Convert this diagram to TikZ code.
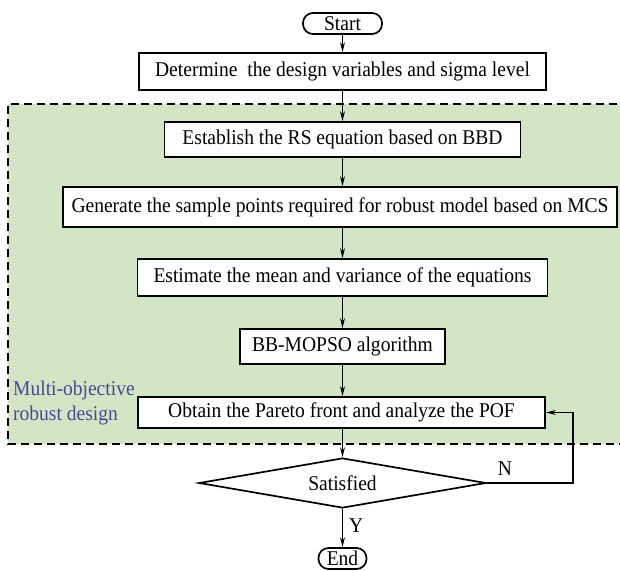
\documentclass[tikz,border=0pt]{standalone}
\usepackage{fontspec}
\setmainfont[FakeStretch=0.93]{Liberation Serif}
\usetikzlibrary{shapes.geometric,arrows.meta}
\definecolor{regionfill}{RGB}{210,230,198}
\definecolor{labelblue}{RGB}{72,72,150}
\tikzset{
  procbox/.style={draw, line width=1.7pt, fill=white, rectangle, inner sep=0pt, font=\fontsize{21}{24}\selectfont},
  termbox/.style={draw, line width=1.7pt, fill=white, rectangle, rounded corners=10pt, inner sep=0pt, font=\fontsize{21}{24}\selectfont},
  decbox/.style={draw, line width=1.7pt, fill=white, diamond, aspect=5.74, inner sep=0pt, font=\fontsize{21}{24}\selectfont},
  flow/.style={line width=1.1pt, -{Stealth[length=10pt,width=5pt]}},
  lbl/.style={inner sep=0pt, font=\fontsize{21}{24}\selectfont}
}
\begin{document}
\begin{tikzpicture}[x=1pt,y=-1pt]
\useasboundingbox (0,0) rectangle (620,570);
\fill[white] (0,0) rectangle (620,570);
% region
\fill[regionfill] (8,104) rectangle (630,444);
\draw[line width=1.2pt, dash pattern=on 8pt off 5pt] (630,104) -- (8,104) -- (8,444) -- (630,444);
\node[lbl, anchor=north west, align=left, text=labelblue, font=\fontsize{21}{25}\selectfont] (region) at (13,381) {Multi-objective\\robust design};
% nodes
\node[termbox, minimum width=79pt, minimum height=21pt] (start) at (342.5,23.5) {Start};
\node[procbox, minimum width=407pt, minimum height=37pt] (det) at (342.5,71.5) {Determine\ \ the design variables and sigma level};
\node[procbox, minimum width=356pt, minimum height=35pt] (rs) at (342.5,139.5) {Establish the RS equation based on BBD};
\node[procbox, minimum width=554pt, minimum height=40pt] (gen) at (340,207) {Generate the sample points required for robust model based on MCS};
\node[procbox, minimum width=410pt, minimum height=37pt] (est) at (342.5,277.5) {Estimate the mean and variance of the equations};
\node[procbox, minimum width=205pt, minimum height=35pt] (bb) at (342.5,346.5) {BB-MOPSO algorithm};
\node[procbox, minimum width=407pt, minimum height=31pt] (pof) at (341.5,412.5) {Obtain the Pareto front and analyze the POF};
\node[decbox, minimum width=287pt, minimum height=50pt] (dia) at (342.5,483) {Satisfied};
\node[termbox, minimum width=48pt, minimum height=21pt] (end) at (342.5,558.5) {End};
\coordinate (loopc) at (573,483);
% connectors
\draw[flow] (start.south) -- (det.north);
\draw[flow] (det.south) -- (rs.north);
\draw[flow] (rs.south) -- (rs.south |- gen.north);
\draw[flow] (rs.south |- gen.south) -- (est.north);
\draw[flow] (est.south) -- (bb.north);
\draw[flow] (bb.south) -- (bb.south |- pof.north);
\draw[flow] (bb.south |- pof.south) -- (dia.north);
\draw[flow] (dia.south) -- (end.north) node[lbl, pos=0.45, right=6pt] (ylab) {Y};
\draw[flow] (dia.east) -- (loopc) |- (pof.east);
\node[lbl] (nlab) at (505,469) {N};
\end{tikzpicture}
\end{document}
